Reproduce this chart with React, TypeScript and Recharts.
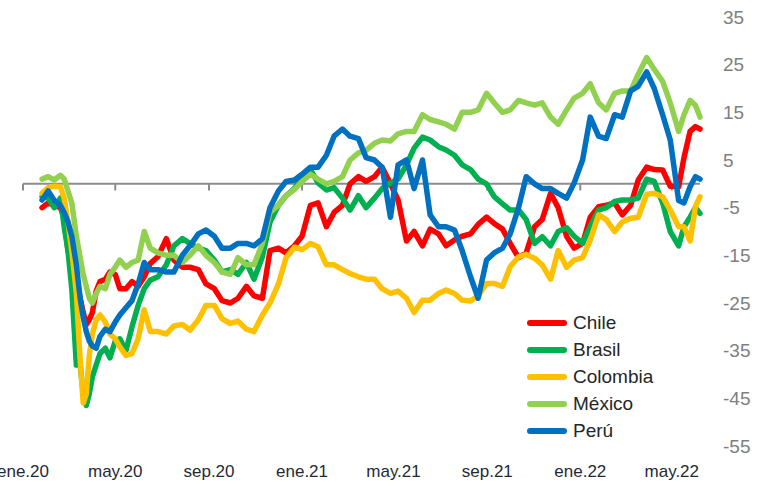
import * as React from "react";
import { LineChart, Line, XAxis, YAxis, ReferenceLine, Legend } from "recharts";

// fechas de observación (muestreo aprox. cada 10 días)
const fechas = [
  "2020-01-26", "2020-02-03", "2020-02-11", "2020-02-19", "2020-02-24", "2020-02-29",
  "2020-03-05", "2020-03-11", "2020-03-16", "2020-03-20", "2020-03-24", "2020-03-28",
  "2020-04-01", "2020-04-06", "2020-04-11", "2020-04-18", "2020-04-24", "2020-05-01",
  "2020-05-07", "2020-05-15", "2020-05-23", "2020-05-31", "2020-06-08", "2020-06-16",
  "2020-06-26", "2020-07-07", "2020-07-17", "2020-07-28", "2020-08-07", "2020-08-18",
  "2020-08-28", "2020-09-08", "2020-09-18", "2020-09-29", "2020-10-09", "2020-10-20",
  "2020-10-30", "2020-11-10", "2020-11-20", "2020-12-01", "2020-12-11", "2020-12-22",
  "2021-01-01", "2021-01-12", "2021-01-22", "2021-02-02", "2021-02-12", "2021-02-23",
  "2021-03-05", "2021-03-16", "2021-03-26", "2021-04-06", "2021-04-16", "2021-04-27",
  "2021-05-07", "2021-05-18", "2021-05-28", "2021-06-08", "2021-06-18", "2021-06-29",
  "2021-07-09", "2021-07-20", "2021-07-30", "2021-08-10", "2021-08-20", "2021-08-31",
  "2021-09-10", "2021-09-21", "2021-10-01", "2021-10-12", "2021-10-22", "2021-11-02",
  "2021-11-12", "2021-11-23", "2021-12-03", "2021-12-14", "2021-12-24", "2022-01-04",
  "2022-01-14", "2022-01-25", "2022-02-04", "2022-02-15", "2022-02-25", "2022-03-08",
  "2022-03-18", "2022-03-29", "2022-04-08", "2022-04-19", "2022-04-29", "2022-05-10",
  "2022-05-17", "2022-05-25", "2022-06-01", "2022-06-07",
];

const chile = [
  -5, -4, -4.5, -5, -7, -14, -17, -20, -24, -27, -29.5, -28.5,
  -27, -22.5, -20.5, -20, -18.5, -19, -22, -22, -20.5, -21.5, -19.5, -16.7,
  -15.3, -11.5, -16, -17.5, -17.5, -18, -21, -22, -24.5, -25,
  -24, -21.5, -23.5, -24, -14, -13.5, -14.5, -13, -11, -4.5,
  -4, -9, -6, -4.5, 0, 1.5, 0.5, 1.5, 3.5, 0,
  -3.4, -12, -10, -13, -9.5, -10.5, -13, -11.8, -11, -10.5,
  -8.5, -7, -8.3, -9.5, -12.5, -15.5, -14.5, -9, -7.5, -2,
  -5, -11, -13.5, -12.5, -7, -4.8, -4.5, -4, -6.5, -4.5,
  0.8, 3.5, 3, 2.9, -0.5, -0.6,
  5.5, 11, 12, 11.5,
];

const brasil = [
  -2.7, -3, -5, -3, -9, -14, -22, -38, -38, -44, -46.5, -44,
  -40.5, -38, -35.6, -34.5, -36.5, -33, -32.5, -35, -30, -25.5, -22, -20.2,
  -19.5, -17, -13, -11.5, -12.5, -13.5, -14, -16, -18.5, -18,
  -19, -16.5, -20, -15.3, -8, -4.5, -2.5, -1, 1.5, 3,
  0.2, -1.3, -0.8, -3, -5.5, -2.5, -5, -3, -1, 0.2,
  1, 4, 7.5, 9.8, 9.2, 7.8, 7.1, 6, 4, 3,
  1, 0, -2.7, -4.2, -5.5, -5.5, -7.5, -12.5, -11.1, -13,
  -10, -9.2, -11, -12.5, -9, -5.5, -5, -3.7, -3.4, -3.4,
  -3, 1, 0.5, -4, -10, -13,
  -9, -7, -5, -6.2,
];

const colombia = [
  -2, -0.8, -0.5, -0.6, -3, -8, -14, -23, -37, -46, -44, -36,
  -31.5, -28.5, -27.5, -29, -31.5, -32.5, -34.2, -36, -35.6, -32.5, -26.4, -31,
  -31, -31.5, -29.8, -29.5, -30.7, -28.5, -25.5, -25.5, -28.3, -29.3,
  -28.8, -30.5, -31, -27.5, -25, -21, -15.5, -13.3, -13.8, -12.5,
  -13.2, -17, -17, -18, -18.8, -19.5, -20, -20, -22, -23,
  -22.5, -24, -27, -24.4, -24.4, -23, -22.3, -23, -24.4, -24.6,
  -23.5, -20.9, -20.9, -21.5, -17.4, -15.3, -14.8, -15.6, -17, -20,
  -14, -17.5, -16, -15.5, -11.8, -6.5, -7.5, -10, -8, -7.2,
  -7, -2.2, -2, -2.7, -5.5, -9,
  -9, -12, -4.8, -2.7,
];

const mexico = [
  1, 1.5, 0.8, 1.8, 1, -1.5, -4, -11, -15.5, -19, -21.5, -24,
  -25, -23, -21.5, -22, -19, -17.5, -16, -17.5, -16.5, -16, -10, -13.5,
  -14.5, -15, -15, -16.5, -15, -13, -15, -16.5, -18.5, -19,
  -15.5, -17, -17, -12.5, -6, -4.5, -2.5, -1.2, 0.5, 2,
  1, 0, 0.5, 1.5, 5, 6.5, 7, 8.5, 9.2, 9,
  10.5, 11, 11, 14.5, 13.5, 13, 12.5, 11.5, 15, 15,
  15.5, 19, 17, 15, 15.5, 17.5, 17, 16.5, 17, 14,
  12.5, 15.5, 18, 19, 21, 17, 15.5, 19, 19.5, 19.5,
  23, 26.5, 24, 21.5, 17, 11,
  14.5, 17.5, 16.5, 14,
];

const peru = [
  -3.4, -1.5, -3.5, -4.5, -6, -8, -11, -17, -24, -28, -31, -33,
  -34, -34.5, -32, -30.5, -31, -29, -27.5, -26, -24.5, -21, -16.5, -18,
  -18, -18.5, -18.5, -15, -13, -10.5, -9.7, -11, -13.5, -13.5,
  -12.5, -12.5, -13, -11.5, -5, -1.5, 0.5, 0.8, 2, 3.5,
  3.5, 6, 10, 11.5, 10, 9.5, 5.5, 5, 3.5, -7,
  4, 5, -1, 5, -6.5, -9, -9, -9.7, -14, -19.5,
  -24, -16, -14.5, -13.5, -10.5, -5, 1.5, 0, -1, -1,
  -2, -3, 0.2, 5, 14, 10, 9.5, 14.5, 14, 19.5,
  20.5, 23.5, 20, 14.5, 9.2, -3.5,
  -4, -0.6, 1.5, 1,
];

const ticksFechas = [
  "2020-01-01", "2020-05-01", "2020-09-01", "2021-01-01",
  "2021-05-01", "2021-09-01", "2022-01-01", "2022-05-01",
];
const ticksEtiquetas = ["ene.20", "may.20", "sep.20", "ene.21", "may.21", "sep.21", "ene.22", "may.22"];
const yTicks = [-55, -45, -35, -25, -15, -5, 5, 15, 25, 35];

const series = [
  { key: "chile", name: "Chile", color: "#FF0000", values: chile },
  { key: "brasil", name: "Brasil", color: "#00B050", values: brasil },
  { key: "colombia", name: "Colombia", color: "#FFC000", values: colombia },
  { key: "mexico", name: "México", color: "#92D050", values: mexico },
  { key: "peru", name: "Perú", color: "#0070C0", values: peru },
];

const toTime = (s: string) => Date.parse(s + "T00:00:00Z");
const tickTimes = ticksFechas.map(toTime);

const data = fechas.map((f, i) => {
  const row: Record<string, number> = { t: toTime(f) };
  series.forEach((s) => {
    row[s.key] = s.values[i];
  });
  return row;
});

const FONT = "'Liberation Sans', Arial, sans-serif";

function LegendBox() {
  return (
    <div style={{ fontFamily: FONT }}>
      {series.map((s) => (
        <div
          key={s.key}
          style={{ display: "flex", alignItems: "center", height: 27 }}
        >
          <div
            style={{
              width: 40,
              height: 6,
              borderRadius: 3,
              background: s.color,
              marginRight: 6,
            }}
          />
          <span style={{ fontSize: 19, color: "#262626" }}>{s.name}</span>
        </div>
      ))}
    </div>
  );
}

export default function App() {
  return (
    <div style={{ width: 764, height: 489, background: "#fff" }}>
      <style>{"body{margin:0}"}</style>
      <LineChart
        width={764}
        height={489}
        data={data}
        margin={{ top: 17, right: 0, bottom: 0, left: 23 }}
      >
        <XAxis
          dataKey="t"
          type="number"
          scale="time"
          domain={[toTime("2020-01-01"), toTime("2022-06-07")]}
          ticks={tickTimes}
          interval={0}
          tickFormatter={(v: number) => ticksEtiquetas[tickTimes.indexOf(v)] ?? ""}
          axisLine={false}
          tickLine={false}
          tickSize={0}
          tickMargin={19}
          height={43}
          tick={{ fill: "#1f2a36", fontSize: 17, fontFamily: FONT }}
        />
        <YAxis
          orientation="right"
          domain={[-55, 35]}
          ticks={yTicks}
          interval={0}
          axisLine={false}
          tickLine={false}
          tickSize={0}
          tickMargin={23}
          width={64}
          tick={{ fill: "#7f7f7f", fontSize: 19, fontFamily: FONT, textAnchor: "start" }}
        />
        <ReferenceLine y={0} stroke="#8c8c8c" strokeWidth={2} />
        {tickTimes.map((t) => (
          <ReferenceLine
            key={t}
            segment={[
              { x: t, y: 0 },
              { x: t, y: -1.4 },
            ]}
            stroke="#8c8c8c"
            strokeWidth={2}
          />
        ))}
        {series.map((s) => (
          <Line
            key={s.key}
            type="linear"
            dataKey={s.key}
            name={s.name}
            stroke={s.color}
            strokeWidth={5.5}
            strokeLinejoin="round"
            strokeLinecap="round"
            dot={false}
            activeDot={false}
            isAnimationActive={false}
          />
        ))}
        <Legend
          layout="vertical"
          align="center"
          verticalAlign="middle"
          wrapperStyle={{ left: 527, top: 309, width: 200 }}
          content={() => <LegendBox />}
        />
      </LineChart>
    </div>
  );
}
